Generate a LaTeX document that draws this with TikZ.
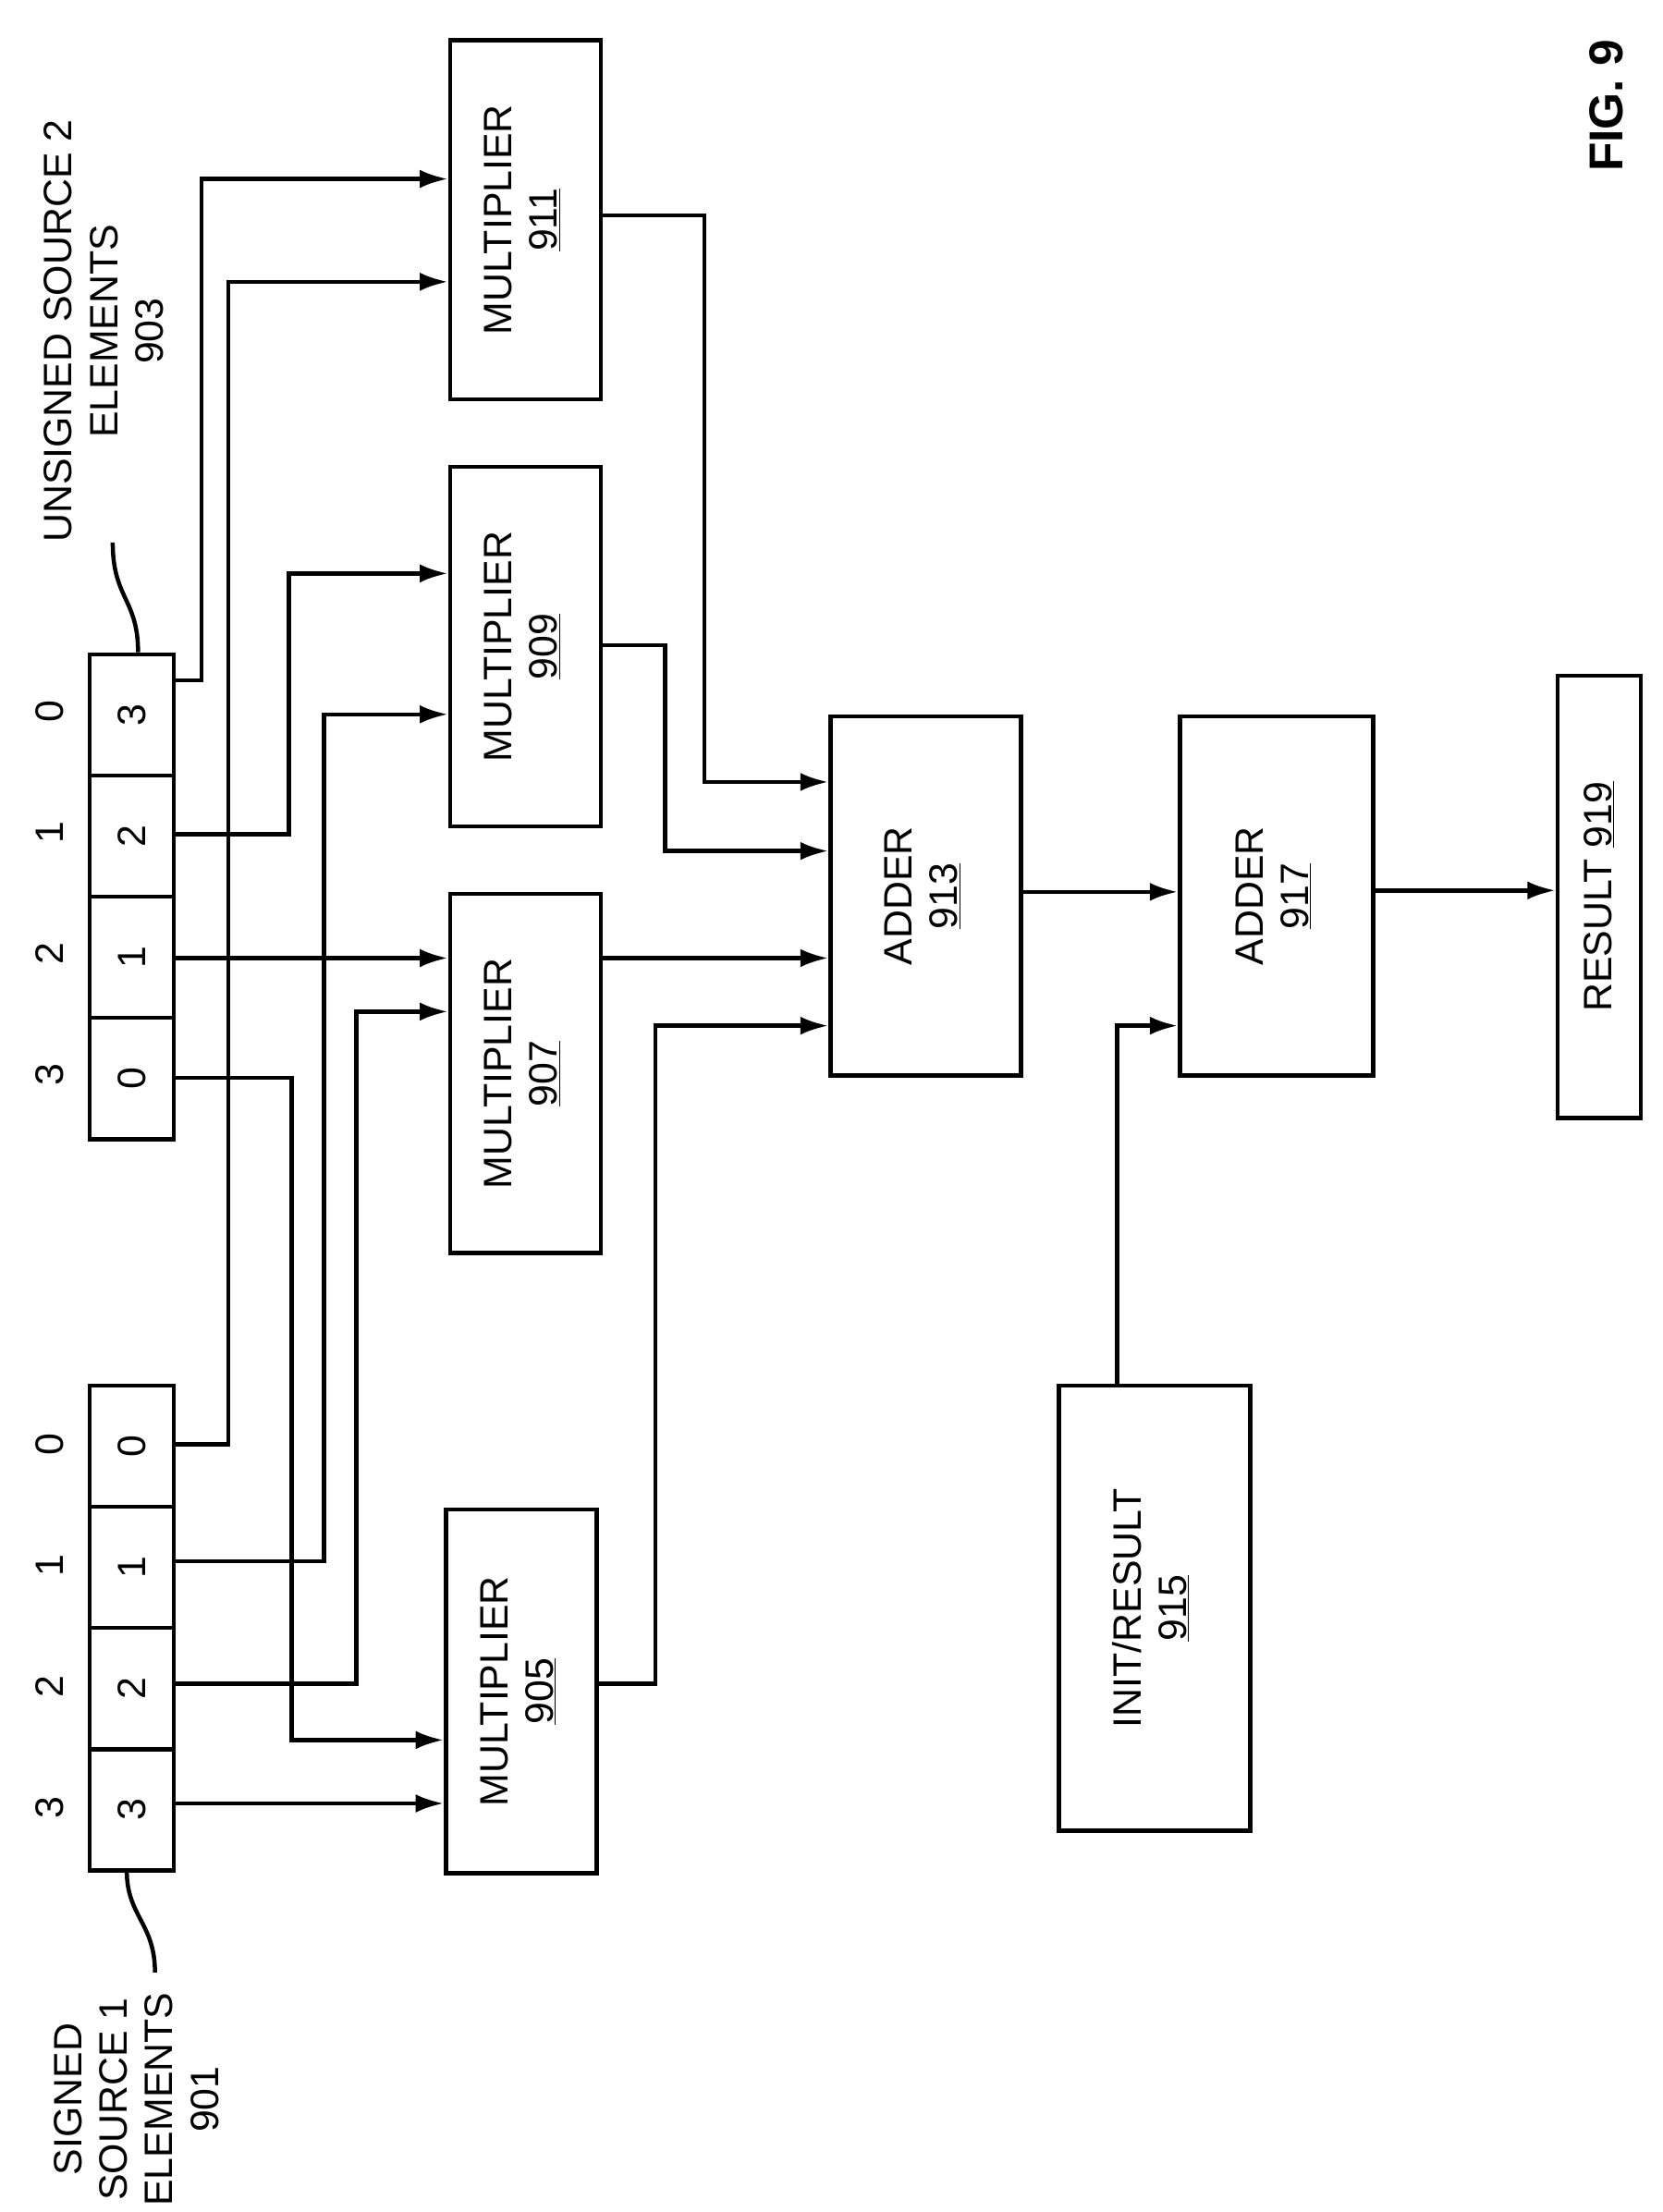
\documentclass[tikz,border=0pt]{standalone}
\usepackage{fontspec}
\setmainfont{Liberation Sans}
\usetikzlibrary{arrows.meta}
\begin{document}
\begin{tikzpicture}[x=0.05cm,y=-0.05cm,
  every node/.style={font=\fontsize{40}{46}\selectfont},
  ln/.style={line width=4.2pt},
  arr/.style={ln,-{Latex[length=1cm,width=0.65cm]}},
  box/.style={draw,line width=4.2pt,inner sep=0pt,anchor=north west},
  cell/.style={draw,line width=4.2pt,inner sep=0pt,minimum width=3cm,minimum height=4.3cm,anchor=north west}]
\useasboundingbox (0,0) rectangle (1180,1570);
\newcommand{\rt}[1]{\rotatebox{90}{\begin{tabular}{c}#1\end{tabular}}}
% source 2 cells
\node[cell] (s2c3) at (62,463) {\rotatebox{90}{3}};
\node[cell] (s2c2) at (62,549) {\rotatebox{90}{2}};
\node[cell] (s2c1) at (62,635) {\rotatebox{90}{1}};
\node[cell] (s2c0) at (62,721) {\rotatebox{90}{0}};
\node (i20) at (35,505) {\rotatebox{90}{0}};
\node (i21) at (35,591) {\rotatebox{90}{1}};
\node (i22) at (35,677) {\rotatebox{90}{2}};
\node (i23) at (35,763) {\rotatebox{90}{3}};
% source 1 cells
\node[cell] (s1c0) at (62,982) {\rotatebox{90}{0}};
\node[cell] (s1c1) at (62,1068) {\rotatebox{90}{1}};
\node[cell] (s1c2) at (62,1154) {\rotatebox{90}{2}};
\node[cell] (s1c3) at (62,1240) {\rotatebox{90}{3}};
\node (i10) at (35,1025) {\rotatebox{90}{0}};
\node (i11) at (35,1111) {\rotatebox{90}{1}};
\node (i12) at (35,1197) {\rotatebox{90}{2}};
\node (i13) at (35,1283) {\rotatebox{90}{3}};
% boxes
\node[box,minimum width=5.35cm,minimum height=12.75cm] (m911) at (318,27) {\rt{MULTIPLIER\\\underline{911}}};
\node[box,minimum width=5.35cm,minimum height=12.75cm] (m909) at (318,330) {\rt{MULTIPLIER\\\underline{909}}};
\node[box,minimum width=5.35cm,minimum height=12.75cm] (m907) at (318,633) {\rt{MULTIPLIER\\\underline{907}}};
\node[box,minimum width=5.35cm,minimum height=12.9cm] (m905) at (315,1070) {\rt{MULTIPLIER\\\underline{905}}};
\node[box,minimum width=6.75cm,minimum height=12.75cm] (a913) at (588,507) {\rt{ADDER\\\underline{913}}};
\node[box,minimum width=6.85cm,minimum height=12.75cm] (a917) at (836,507) {\rt{ADDER\\\underline{917}}};
\node[box,minimum width=6.8cm,minimum height=15.8cm] (i915) at (750,982) {\rt{INIT/RESULT\\\underline{915}}};
\node[box,minimum width=2.95cm,minimum height=15.7cm] (r919) at (1104,478) {\rotatebox{90}{RESULT \underline{919}}};
\node (fig) at (1140,75) {\rotatebox{90}{\fontsize{48}{52}\selectfont\bfseries FIG. 9}};
% labels
\node (l901) at (100,1490) {\rt{SIGNED\\SOURCE 1\\ELEMENTS\\901}};
\node (l903) at (77,235) {\rt{UNSIGNED SOURCE 2\\ELEMENTS\\903}};
\draw[ln] (90,1328) .. controls (90,1360) and (110,1365) .. (110,1400);
\draw[ln] (98,463) .. controls (98,425) and (80,425) .. (80,385);
% connectors
\draw[arr] (s2c3.east|-0,483) -- (143,483) |- (m911.west|-0,127);
\draw[arr] (s2c2.east|-0,592) -- (205,592) |- (m909.west|-0,407);
\draw[arr] (s2c1.east|-0,680) -- (m907.west|-0,680);
\draw[arr] (s2c0.east|-0,765) -- (207,765) |- (m905.west|-0,1235);
\draw[arr] (s1c0.east|-0,1025) -- (162,1025) |- (m911.west|-0,200);
\draw[arr] (s1c1.east|-0,1108) -- (230,1108) |- (m909.west|-0,507);
\draw[arr] (s1c2.east|-0,1195) -- (253,1195) |- (m907.west|-0,718);
\draw[arr] (s1c3.east|-0,1280) -- (m905.west|-0,1280);
\draw[arr] (m911.east|-0,153) -- (500,153) |- (a913.west|-0,555);
\draw[arr] (m909.east|-0,458) -- (472,458) |- (a913.west|-0,604);
\draw[arr] (m907.east|-0,680) -- (a913.west|-0,680);
\draw[arr] (m905.east|-0,1195) -- (465,1195) |- (a913.west|-0,728);
\draw[arr] (a913.east|-0,633) -- (a917.west|-0,633);
\draw[arr] (i915.north-|793,0) |- (a917.west|-0,728);
\draw[arr] (a917.east|-0,632) -- (r919.west|-0,632);
\end{tikzpicture}
\end{document}
